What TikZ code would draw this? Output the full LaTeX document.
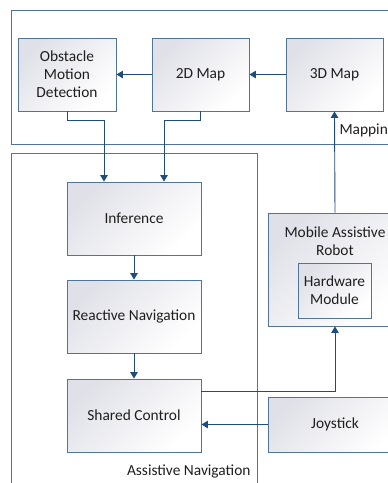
\documentclass[tikz,border=0pt]{standalone}
\usepackage{fontspec}
\setmainfont{Carlito}
\usetikzlibrary{arrows.meta,calc}
\definecolor{edgeblue}{RGB}{80,116,156}
\definecolor{linkblue}{RGB}{31,76,122}
\definecolor{shadegray}{RGB}{224,225,232}
\definecolor{textgray}{RGB}{30,30,30}
\begin{document}
\begin{tikzpicture}[x=1pt,y=-1pt,
  font=\fontsize{15.4}{18}\selectfont, text=textgray,
  block/.style={draw=edgeblue, line width=0.9pt, shading=axis,
    top color=shadegray, bottom color=white, shading angle=45,
    rectangle, inner sep=0pt, align=center},
  frame/.style={draw=edgeblue, line width=0.9pt},
  arr/.style={draw=linkblue, line width=0.9pt,
    -{Triangle[width=7.5pt,length=6.5pt]}}]
\useasboundingbox (0,0) rectangle (388,483);
\clip (0,0) rectangle (388,483);

% group frames
\draw[frame] (11,10) rectangle (400,144);
\draw[frame] (11,153) rectangle (257,500);
\node[anchor=west] (maplbl) at (336,131) {Mapping};
\node[anchor=east] (navlbl) at (254,471) {Assistive Navigation};

% mapping stage
\node[block, minimum width=98pt, minimum height=73pt] (obst) at (67,74.5)
  {Obstacle\\Motion\\Detection};
\node[block, minimum width=97pt, minimum height=73pt] (map2d) at (200.5,74.5) {2D Map};
\node[block, minimum width=97pt, minimum height=73pt] (map3d) at (334.5,74.5) {3D Map};

% navigation stage
\node[block, minimum width=134pt, minimum height=73pt] (infer) at (134,218.5) {Inference};
\node[block, minimum width=134pt, minimum height=73pt] (react) at (134,316.5) {Reactive Navigation};
\node[block, minimum width=134pt, minimum height=73pt] (shared) at (134,415.5) {Shared Control};

% robot and input device
\node[block, minimum width=134pt, minimum height=113pt] (robot) at (335,269.5) {};
\node[align=center, inner sep=0pt] (robotlbl) at (335,241) {Mobile Assistive\\Robot};
\node[block, minimum width=73pt, minimum height=55pt] (hw) at (334.5,290.5) {Hardware\\Module};
\node[block, minimum width=134pt, minimum height=55pt] (joy) at (335,424.5) {Joystick};

% connectors
\draw[arr] (map2d.west) -- (obst.east);
\draw[arr] (map3d.west) -- (map2d.east);
\draw[arr] (obst.south) -- ++(0,9) -| ([xshift=-30pt]infer.north);
\draw[arr] (map2d.south) -- ++(0,9) -| ([xshift=30pt]infer.north);
\draw[arr] (infer.south) -- (react.north);
\draw[arr] (react.south) -- (shared.north);
\draw[arr] ([yshift=24.5pt]shared.east) -| (robot.south);
\draw[arr] (joy.west) -- (joy.west -| shared.east);
\draw[arr] (robot.north) -- (map3d.south);
\end{tikzpicture}
\end{document}
